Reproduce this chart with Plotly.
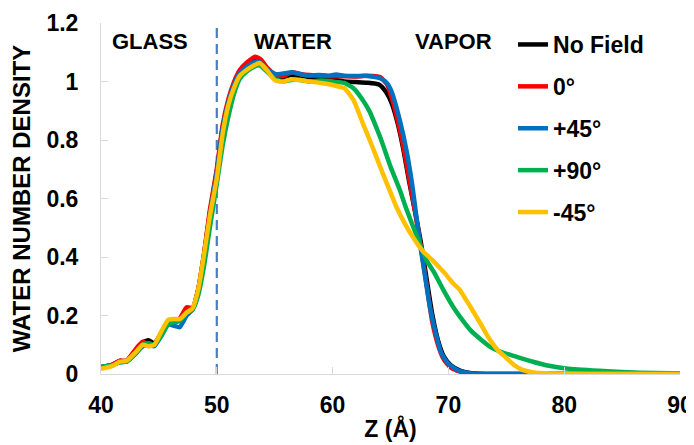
import plotly.graph_objects as go

# ---- data ----
series_names = ["No Field", "0°", "+45°", "+90°", "-45°"]
series_colors = ["#000000", "#FF0000", "#0070C0", "#00B050", "#FFC000"]

x_black = [40, 41, 41.6, 42.2, 43, 43.6, 44.1, 44.6, 45.2, 45.8, 46.3, 46.8, 47.4, 47.9, 48.4, 48.9, 49.4, 50,
           50.5, 51, 51.5, 52, 52.6, 53.2, 53.7, 54.3, 55, 55.7, 56.4, 57.2, 58, 59, 60, 61, 62, 63, 64, 64.6,
           65.1, 65.6, 66.1, 66.6, 67.1, 67.6, 68.1, 68.6, 69.1, 69.6, 70.2, 71, 72, 74, 78, 84, 90]
y_black = [0.022, 0.032, 0.045, 0.045, 0.08, 0.108, 0.115, 0.105, 0.14, 0.178, 0.18, 0.185, 0.225, 0.225, 0.29,
           0.41, 0.55, 0.69, 0.84, 0.93, 0.99, 1.03, 1.05, 1.07, 1.068, 1.045, 1.02, 1.012, 1.02, 1.02, 1.015,
           1.012, 1.007, 1.0, 0.998, 0.996, 0.99, 0.965, 0.926, 0.86, 0.77, 0.66, 0.56, 0.455, 0.33, 0.205, 0.115,
           0.06, 0.03, 0.012, 0.003, 0.0, 0.0, 0.0, 0.0]

x_red = [40, 41, 41.6, 42.2, 43, 43.6, 44.1, 44.6, 45.2, 45.8, 46.3, 46.8, 47.4, 47.9, 48.4, 48.9, 49.4, 50,
         50.5, 51, 51.5, 52, 52.6, 53.3, 53.8, 54.4, 55.1, 55.7, 56.5, 57.3, 58, 59, 60, 61, 62, 63, 64.1, 64.7,
         65.1, 65.6, 66.1, 66.6, 67.1, 67.6, 68.1, 68.6, 69.1, 69.6, 70.2, 71, 72, 74, 78, 84, 90]
y_red = [0.022, 0.032, 0.045, 0.045, 0.085, 0.11, 0.1, 0.1, 0.14, 0.178, 0.18, 0.19, 0.228, 0.225, 0.29,
         0.41, 0.56, 0.7, 0.85, 0.94, 1.0, 1.04, 1.065, 1.085, 1.075, 1.045, 1.022, 1.018, 1.032, 1.025, 1.022,
         1.02, 1.018, 1.018, 1.017, 1.02, 1.015, 0.99, 0.945, 0.87, 0.78, 0.67, 0.56, 0.44, 0.31, 0.18, 0.1,
         0.05, 0.022, 0.008, 0.001, 0.0, 0.0, 0.0, 0.0]

x_blue = [40, 41, 41.6, 42.2, 43, 43.6, 44.1, 44.6, 45.2, 45.8, 46.3, 46.8, 47.4, 47.9, 48.4, 48.9, 49.4, 50,
          50.5, 51, 51.5, 52, 52.6, 53.3, 53.8, 54.4, 55.1, 55.7, 56.5, 57.3, 58, 58.8, 59.6, 60.3, 61, 62, 63,
          64.1, 64.7, 65.1, 65.8, 66.4, 66.9, 67.5, 68.0, 68.4, 68.9, 69.4, 70.0, 70.5, 71.0, 72, 74, 78, 84, 90]
y_blue = [0.025, 0.03, 0.04, 0.042, 0.07, 0.095, 0.1, 0.095, 0.13, 0.17, 0.165, 0.16, 0.2, 0.22, 0.28,
          0.4, 0.54, 0.69, 0.84, 0.93, 0.99, 1.03, 1.05, 1.068, 1.064, 1.04, 1.025, 1.027, 1.032, 1.024, 1.02,
          1.022, 1.02, 1.024, 1.02, 1.019, 1.019, 1.011, 0.994, 0.965, 0.868, 0.76, 0.64, 0.458, 0.33, 0.23,
          0.14, 0.07, 0.035, 0.02, 0.01, 0.002, 0.0, 0.0, 0.0, 0.0]

x_green = [40, 41, 41.6, 42.2, 43, 43.6, 44.1, 44.6, 45.2, 45.8, 46.3, 46.8, 47.4, 47.9, 48.4, 48.9, 49.4, 50,
           50.5, 51, 51.5, 52, 52.6, 53.2, 53.7, 54.3, 55, 55.7, 56.4, 57.2, 58, 59, 60, 61, 61.8, 62.6, 63.2,
           63.7, 64.2, 65.0, 65.8, 66.3, 67.4, 68.1, 68.8, 69.6, 70.4, 71.2, 71.9, 72.8, 73.6, 74.5, 75.8, 77.3,
           78.7, 80.2, 83, 86, 90]
y_green = [0.025, 0.03, 0.04, 0.042, 0.07, 0.1, 0.105, 0.1, 0.13, 0.17, 0.178, 0.18, 0.21, 0.22, 0.27,
           0.37, 0.5, 0.65, 0.78, 0.88, 0.96, 1.01, 1.035, 1.05, 1.055, 1.035, 1.01, 1.0, 1.005, 1.005, 1.0,
           1.003, 1.0, 0.995, 0.977, 0.937, 0.897, 0.85, 0.8, 0.709, 0.63, 0.572, 0.458, 0.39, 0.345, 0.285,
           0.23, 0.185, 0.15, 0.118, 0.093, 0.076, 0.06, 0.042, 0.028, 0.019, 0.011, 0.005, 0.002]

x_yellow = [40, 41, 41.6, 42.2, 43, 43.6, 44.1, 44.6, 45.2, 45.8, 46.3, 46.8, 47.4, 47.9, 48.4, 48.9, 49.4, 50,
            50.5, 51, 51.5, 52, 52.6, 53.2, 53.7, 54.3, 55, 55.7, 56.4, 57.2, 58, 59, 60, 61, 61.8, 62.6, 63.2,
            63.7, 64.1, 64.8, 65.5, 66.3, 67.1, 67.8, 68.6, 69.2, 69.7, 70.4, 71.0, 71.5, 71.9, 72.8, 73.6, 74.3,
            74.9, 75.7, 76.4, 77.5, 80, 90]
y_yellow = [0.018, 0.028, 0.042, 0.045, 0.075, 0.1, 0.095, 0.1, 0.145, 0.185, 0.188, 0.188, 0.21, 0.225, 0.29,
            0.41, 0.54, 0.67, 0.82, 0.92, 0.98, 1.02, 1.04, 1.055, 1.063, 1.04, 1.005, 0.999, 1.008, 1.005, 1.0,
            0.995, 0.988, 0.977, 0.937, 0.858, 0.8, 0.75, 0.709, 0.64, 0.572, 0.51, 0.458, 0.42, 0.39, 0.365,
            0.344, 0.31, 0.287, 0.255, 0.23, 0.17, 0.116, 0.08, 0.059, 0.03, 0.014, 0.004, 0.001, 0.0]

series_x = [x_black, x_red, x_blue, x_green, x_yellow]
series_y = [y_black, y_red, y_blue, y_green, y_yellow]

region_labels = ["GLASS", "WATER", "VAPOR"]
region_x = [44.23, 56.58, 70.44]
region_y = 1.138
interface_z = 50

x_ticks = [40, 50, 60, 70, 80, 90]
y_ticks = [0, 0.2, 0.4, 0.6, 0.8, 1.0, 1.2]
y_ticktext = ["0", "0.2", "0.4", "0.6", "0.8", "1", "1.2"]

FONT = "Liberation Sans, Arial, sans-serif"

fig = go.Figure()
for name, color, xs, ys in zip(series_names, series_colors, series_x, series_y):
    fig.add_trace(go.Scatter(
        x=xs, y=ys, mode="lines", name=name, legendgroup=name,
        line=dict(color=color, width=4.5, shape="spline", smoothing=0.5),
    ))

fig.add_shape(type="line", xref="x", yref="y", x0=interface_z, x1=interface_z, y0=0, y1=1.2,
              line=dict(color="#4A7EBB", width=2.2, dash="10px,6px"), layer="below")

for lab, xx in zip(region_labels, region_x):
    fig.add_annotation(x=xx, y=region_y, xref="x", yref="y", text=lab, showarrow=False,
                       font=dict(family=FONT, size=22, color="black", weight="bold"))

# page body has an 8px margin: figure drawn at (8, 8) in the window
fig.update_layout(
    width=686, height=437,
    margin=dict(l=93, r=14, t=15, b=71, autoexpand=False),
    paper_bgcolor="white", plot_bgcolor="white",
    font=dict(family=FONT, size=23, color="black", weight="bold"),
    showlegend=True,
    legend=dict(x=0.7116, y=1.0, xanchor="left", yanchor="top", bgcolor="rgba(0,0,0,0)",
                font=dict(family=FONT, size=23, color="black", weight="bold"),
                itemwidth=30, tracegroupgap=9, traceorder="grouped"),
)
fig.update_xaxes(range=[40, 90], tickvals=x_ticks, showgrid=False, zeroline=False,
                 showline=True, linecolor="#D9D9D9", linewidth=1,
                 ticks="inside", ticklen=7, tickcolor="#D9D9D9",
                 ticklabelstandoff=10,
                 title=dict(text="Z (Å)", standoff=4,
                            font=dict(family=FONT, size=23, weight="bold")))
fig.update_yaxes(range=[0, 1.2], tickvals=y_ticks, ticktext=y_ticktext,
                 showgrid=False, zeroline=False,
                 showline=True, linecolor="#D9D9D9", linewidth=1,
                 ticks="inside", ticklen=7, tickcolor="#D9D9D9",
                 ticklabelstandoff=17,
                 title=dict(text="WATER NUMBER DENSITY", standoff=12,
                            font=dict(family=FONT, size=24, weight="bold")))

fig.write_html("out.html")
